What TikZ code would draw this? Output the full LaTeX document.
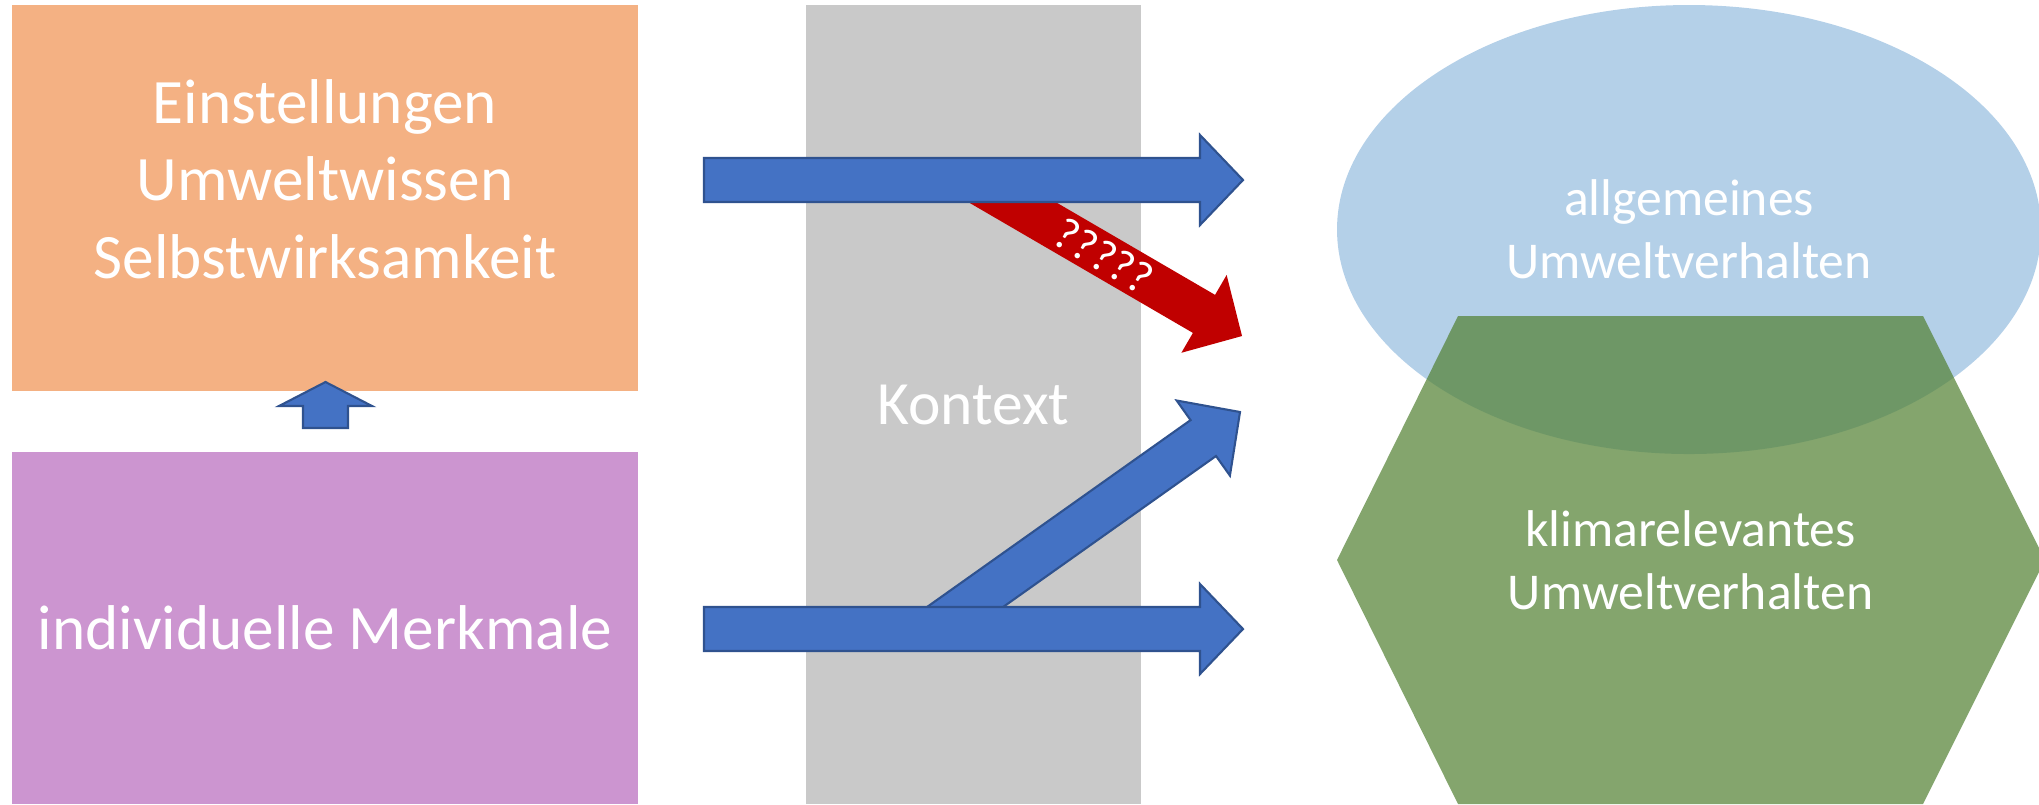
\documentclass[tikz,border=0pt]{standalone}
\usepackage{fontspec}
\setmainfont{Carlito}
\usetikzlibrary{calc,shapes.geometric}
\definecolor{einstorange}{RGB}{244,177,131}
\definecolor{merkviolett}{RGB}{204,149,208}
\definecolor{kontextgrau}{RGB}{201,201,201}
\definecolor{allgblau}{RGB}{180,208,232}
\definecolor{klimagruen}{RGB}{84,130,53}
\definecolor{pfeilblau}{RGB}{68,114,196}
\definecolor{pfeilrand}{RGB}{47,82,143}
\definecolor{pfeilrot}{RGB}{192,0,0}
% block arrow: [style]{start}{tip}{half shaft}{half head}{head length}
\newcommand{\blockarrow}[6][]{%
  \coordinate (ba-h) at ($(#3)!#6!(#2)$);
  \path[#1] ($(#2)!#4!90:(#3)$) -- ($(ba-h)!#4!90:(#3)$) -- ($(ba-h)!#5!90:(#3)$) -- (#3)
    -- ($(ba-h)!#5!-90:(#3)$) -- ($(ba-h)!#4!-90:(#3)$) -- ($(#2)!#4!-90:(#3)$) -- cycle;}

\begin{document}
\begin{tikzpicture}[font=\fontsize{18}{22}\selectfont,
  box/.style={rectangle, minimum width=6.26cm, inner sep=0pt, text=white, align=center},
  txt/.style={text=white, align=center, inner sep=0pt},
  small/.style={font=\fontsize{14.7}{18}\selectfont},
  barr/.style={fill=pfeilblau, draw=pfeilrand, line width=0.6pt},
  rarr/.style={fill=pfeilrot}]
\clip[use as bounding box] (0,0) rectangle (20.39,-8.04);
\node[box, fill=einstorange, minimum height=3.86cm, text depth=3.8mm] (einst) at (3.25,-1.98) {Einstellungen\\Umweltwissen\\Selbstwirksamkeit};
\node[box, fill=merkviolett, minimum height=3.52cm] (merk) at (3.25,-6.28) {individuelle Merkmale};
\node[box, fill=kontextgrau, minimum width=3.35cm, minimum height=7.99cm, font=\fontsize{17.5}{21}\selectfont] (kontext) at (9.735,-4.045) {Kontext};
\node[ellipse, fill=allgblau, minimum width=7.04cm, minimum height=4.49cm, txt, small] (allg) at (16.89,-2.295) {allgemeines\\Umweltverhalten};
\fill[klimagruen, opacity=0.72] (14.58,-3.16) -- (19.23,-3.16) -- (20.45,-5.60) -- (19.23,-8.04) -- (14.58,-8.04) -- (13.37,-5.60) -- cycle;
\node[txt, small] (klima) at (16.905,-5.60) {klimarelevantes\\Umweltverhalten};

\coordinate (einst-r) at (7.04,-1.80); \coordinate (allg-l) at (12.43,-1.80);
\coordinate (merk-r) at (7.04,-6.29); \coordinate (klima-l) at (12.43,-6.29);
\coordinate (kreuz-o) at (9.74,-1.80); \coordinate (klima-o) at (12.42,-3.36);
\coordinate (kreuz-u) at (9.34,-6.29); \coordinate (allg-u) at (12.40,-4.12);
\coordinate (merk-o) at (3.255,-4.28); \coordinate (einst-u) at (3.255,-3.82);

\blockarrow[rarr]{kreuz-o}{klima-o}{0.22cm}{0.45cm}{0.44cm}
\node[txt, rotate=-30, font=\fontsize{13}{15}\selectfont] (frage) at (11.04,-2.56) {?????};
\blockarrow[barr]{einst-r}{allg-l}{0.22cm}{0.45cm}{0.43cm}
\blockarrow[barr]{kreuz-u}{allg-u}{0.22cm}{0.46cm}{0.45cm}
\blockarrow[barr]{merk-r}{klima-l}{0.22cm}{0.45cm}{0.43cm}
\blockarrow[barr]{merk-o}{einst-u}{0.225cm}{0.465cm}{0.24cm}
\end{tikzpicture}
\end{document}
